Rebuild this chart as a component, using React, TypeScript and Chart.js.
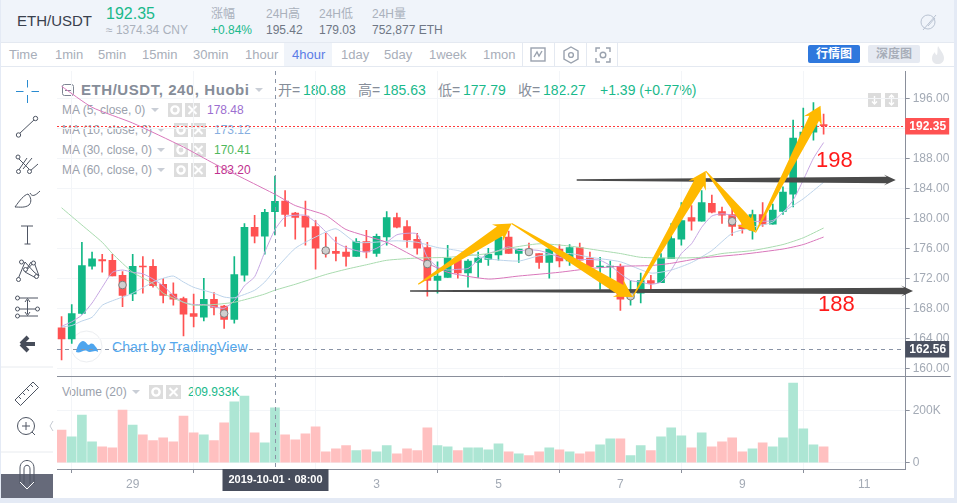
import React, { useEffect, useRef } from "react";
import { Chart, registerables } from "chart.js";

Chart.register(...registerables);

// ---------- data (bar number 0 = 29 Sep 00:00, 6 bars per day) ----------
const firstBar = -7;
const opens = [165.4,163.9,167.3,173.6,174.5,174.4,172.4,169.9,173.6,173.6,171.2,169.9,169.3,167.3,166.8,169.2,168.3,166.5,172.4,178.8,177.6,180.88,182.3,180.7,180.3,178.9,175.9,175.6,175.5,174.9,176.9,175.3,177.5,180.1,178.9,177.2,176.1,171.7,172.1,174.4,172.7,174.1,174.5,175.1,177.5,175.3,175.9,175.3,174.1,175.9,174.3,176.1,174.7,173.5,173.5,173.6,169.3,170,171.7,171.4,174.6,177.2,180.1,179.6,182,180.9,180.5,179.1,178.4,180.5,179.2,180.9,183.2,190.7,191.5,192.5];
const highs = [166.9,168.5,176.8,175.5,175.2,175.2,172.9,175.2,174.9,174.5,172,171.4,169.5,169.9,172,170.1,168.4,174.9,179.3,180.4,181.2,185.63,183.7,180.8,182.3,179.7,178,177.5,176.3,177.3,178.4,177.9,180.9,180.7,179.7,178,176.8,174.2,176.4,174.7,174.5,175.5,176,177.7,178.3,175.9,176.7,175.3,176,176.5,176.5,176.7,175.5,174.8,174.3,173.9,171.7,172.7,172.4,175.3,179.3,182.1,181.7,183.7,183.1,181.5,181.5,180.2,181.1,182.1,181.9,184.2,193.1,194.7,195.42,193.9];
const lows = [161.1,163.3,167.2,173.2,172.8,172.3,168.2,169,170,170.8,168.7,168.4,164.3,165.5,166.3,167.1,165.3,166,171.6,176.7,175.2,177.79,178.9,177.2,176.4,173.2,174.8,174.3,173.6,174.9,174.7,174.9,176.4,178.7,176.1,175.2,169.6,170,172.1,172,170.8,172.1,173.7,174.4,175.3,174.1,175.1,173.3,172,173.5,173.7,174.4,173.5,170.5,170.5,167.7,168.4,168.7,170.5,171.4,174.6,176.4,178.4,179.6,180.7,179.3,177.7,178,177.2,178.9,179.2,180.5,181.5,190.4,190.4,191.2];
const closes = [163.9,167.3,173.7,174.6,174.3,172.3,169.7,173.6,173.5,171,169.7,169.2,167.2,166.9,169.2,168.1,166.5,172.5,178.8,177.6,180.8,182.27,180.5,180.1,178.8,176,175.3,175.3,174.9,176.9,175.5,177.6,180.1,178.8,177.1,176,171.7,172.3,174.7,172.7,174.3,174.7,175.2,177.5,175.3,175.9,175.3,174.1,175.9,174.3,176.1,174.4,173.5,173.6,173.6,169.2,169.9,171.7,171.3,174.7,177.3,179.7,179.6,182.1,180.8,180.4,178.9,178.6,180.5,179.2,181.1,183.5,190.7,191.5,192.5,192.35];
// volume, in thousands
const volumes = [125,99,182,80,61,57,201,144,106,84,95,80,178,114,106,84,152,232,254,114,76,209.933,106,87,110,137,42,53,65,46,49,42,65,34,53,46,133,65,61,46,57,57,49,72,42,34,27,42,57,49,42,34,42,68,91,91,27,65,46,99,133,103,57,114,61,80,95,42,53,76,61,95,304,129,68,61];

const ma5Bars = [-7,-6,-5,-4,-3,-2,-1,0,1,2,3,4,5,6,7,8,9,10,11,12,13,14,15,16,17,18,19,20,21,22,23,24,25,26,27,28,29,30,31,32,33,34,35,36,37,38,39,40,41,42,43,44,45,46,47,48,49,50,51,52,53,54,55,56,57,58,59,60,61,62,63,64,65,66,67,68];
const ma5Values = [165.6,166.2,167.1,168.7,170.8,172.8,173.1,172.8,172.6,171.9,171,169.7,168.8,168.5,168.5,168.2,168,169,171,172.2,175.5,178.48,180.2,180.4,180.4,179.5,178.2,176.8,176.1,175.7,175.5,176,176.8,177.8,178,177.9,174.8,173.5,173.1,173.2,173.3,174.4,175.3,175.7,176.2,175.7,175.8,175.7,175.3,174.8,174.6,174.5,174.5,174.4,173.7,172.6,171.7,171.5,171.2,171.5,173.1,175.3,176.6,178.8,180.3,180.6,180.4,180,179.6,179.6,179.7,180.8,182.4,185.1,188,190.1];
const ma10Bars = [-7,-6,-5,-4,-3,-2,0,2,3,4,5,6,8,9,10,12,13,14,16,18,20,22,26,28,30,32,35,38,40,43,45,48,51,53,55,57,59,61,63,64,66,68];
const ma10Values = [165.5,165.7,166.3,166.8,168.4,169,170,171.5,172,172.3,171.5,170.8,170,169.5,169.4,170.4,171.5,173.12,176,177.5,178.6,176.8,177,176.8,176.1,175.7,174.6,174.3,175,175.3,174.8,174.2,172.7,173.1,174.1,175.7,178,178.8,179.5,180.8,182.6,184.8];
const ma30Bars = [-7,-5,-3,-2,0,2,3,5,6,8,10,12,13,14,16,19,21,23,25,28,31,35,37,40,43,46,48,50,53,56,58,61,64,66,68];
const ma30Values = [181.4,179.1,176.8,175.3,172.8,171.3,170,168.8,168.4,168.5,168.8,169.5,169.9,170.41,171.2,172.5,173.2,173.8,174.4,174.7,174.8,175.3,176,176.6,176.3,175.7,175.3,174.8,174.7,174.8,175.3,175.7,176.5,177.4,178.7];
const ma60Bars = [-7,-4,0,5,8,14,16,19,21,25,28,31,35,38,42,45,48,51,53,56,60,64,66,68];
const ma60Values = [197.6,194.8,192.7,189.5,187.3,183.2,181.7,180.4,178.5,176.8,174.7,172.8,171.9,172.3,172.8,173.3,173.6,173.7,174,174.7,175.2,175.9,176.5,177.5];

const markerBars = [-1,9,19,29,39,49,59];
const markerPrices = [171.1,167.3,175.7,173.9,175.5,169.6,179.6];

const priceTicksStep = 4;
const dateBars = [0,12,24,36,48,60,72];
const dateLabels = ["29","","3","5","7","9","11"];

const lastPrice = 192.35;
const refPrice = 162.56;
const crossBar = 14;
const crossLabel = "2019-10-01 · 08:00";

const orangeStartBars = [28.1,37.3,49.2,56.4,61.3];
const orangeStartPrices = [171.2,179.3,169.5,186.3,178.1];
const orangeEndBars = [37.3,49.2,56.4,61.3,67.7];
const orangeEndPrices = [179.3,169.5,186.3,178.1,195];
const blackStartBars = [43.7,27.3];
const blackEndBars = [75.1,76.8];
const blackPrices = [185.1,170.3];

const FONT = '"Liberation Sans", Arial, sans-serif';
const CJK = '"Liberation Sans", "Noto Sans CJK SC", sans-serif';
const UP = "#12b886";
const DOWN = "#ff5252";
const UP_VOL = "#ade6d4";
const DOWN_VOL = "#ffc0c0";
const TEAL = "#1ab98b";

const bars = opens.map((_, k) => firstBar + k);
const colorOf = (k: number) => (closes[k] >= opens[k] ? UP : DOWN);
const xy = (xs: number[], ys: number[]) => xs.map((x, k) => ({ x, y: ys[k] }));

function T(p: { x: number; y: number; s?: number; c?: string; b?: boolean; children: any; ls?: number; f?: string; z?: number }) {
  return (
    <div style={{ position: "absolute", left: p.x, top: p.y, lineHeight: "0px", height: 0, whiteSpace: "pre", fontSize: p.s ?? 12, color: p.c ?? "#a3aab5", fontWeight: p.b ? 700 : 400, fontFamily: p.f ?? CJK, letterSpacing: p.ls ?? 0, zIndex: p.z }}>
      {p.children}
    </div>
  );
}

function Box(p: { x: number; y: number; w: number; h: number; c: string; r?: number }) {
  return <div style={{ position: "absolute", left: p.x, top: p.y, width: p.w, height: p.h, background: p.c, borderRadius: p.r ?? 0 }} />;
}

function GearX({ x, y }: { x: number; y: number }) {
  return (
    <svg style={{ position: "absolute", left: x, top: y }} width={32} height={14}>
      <rect x={0} y={0} width={14} height={14} fill="#dddddd" />
      <circle cx={7} cy={7} r={3.6} fill="none" stroke="#fff" strokeWidth={2.4} />
      <rect x={17} y={0} width={15} height={14} fill="#dddddd" />
      <path d="M20.5 3 L28.5 11 M28.5 3 L20.5 11" stroke="#fff" strokeWidth={2} />
    </svg>
  );
}

function Caret({ x, y }: { x: number; y: number }) {
  return (
    <svg style={{ position: "absolute", left: x, top: y }} width={9} height={5}>
      <path d="M0 0 L8 0 L4 4 Z" fill="#c9ced6" />
    </svg>
  );
}

function SideIcons() {
  const k = "#4e5563";
  return (
    <svg style={{ position: "absolute", left: 0, top: 0 }} width={57} height={503}>
      <path d="M27.5 80 V87.5 M27.5 95 V103 M16 91.5 H23.5 M31.5 91.5 H39" stroke="#2a8bd0" strokeWidth={1} fill="none" />
      <g stroke={k} strokeWidth={1} fill="#fff">
        <line x1={19} y1={134} x2={35} y2={119} />
        <circle cx={18.5} cy={135} r={2.2} />
        <circle cx={35.5} cy={118.5} r={2.2} />
        <line x1={18} y1={158} x2={29} y2={169} />
        <line x1={18} y1={171} x2={27} y2={158} />
        <line x1={23} y1={169} x2={32} y2={158} />
        <line x1={30} y1={171} x2={38} y2={164} />
        <circle cx={18} cy={157} r={2} />
        <circle cx={18.5} cy={171.5} r={2} />
        <circle cx={29.5} cy={171.5} r={2} />
        <path d="M15 207 C20 200 24 195 28 194 C31 197 32 202 29 205 C25 208 20 207 15 207 Z" fill="none" />
        <path d="M30 193 C32 197 35 196 40 191" fill="none" />
        <path d="M21 226 H33 M27.5 226 V244 M24.5 244 H30.5" fill="none" />
        <path d="M18 279 L25 262 L34 272 L39 276 L34 262 L25 272 L31 262 M25 272 L36 278" fill="none" />
        <circle cx={18.5} cy={279.5} r={2} />
        <circle cx={21.5} cy={262} r={2} />
        <circle cx={25.5} cy={269.5} r={2} />
        <circle cx={33.5} cy={263} r={2} />
        <circle cx={36.5} cy={276.5} r={2} />
        <path d="M18 298 H38 M18 309 H37 M18 316 H38" fill="none" />
        <path d="M27.5 300 V314 M25 302 L27.5 298.5 L30 302 M25 312 L27.5 315.5 L30 312" fill="none" />
        <circle cx={17.5} cy={298} r={2} />
        <circle cx={17.5} cy={309} r={2} />
        <circle cx={17.5} cy={316} r={2} />
        <circle cx={37.5} cy={309} r={2} />
      </g>
      <path d="M21 344 L28 337 M21 344 L28 351 M21 344 H35" stroke="#474d5a" strokeWidth={4} fill="none" />
      <line x1={1} y1={367} x2={53} y2={367} stroke="#e8ebef" />
      <g stroke={k} strokeWidth={1} fill="none">
        <path d="M15 400 L33 382 L38.5 387.5 L20.5 405.5 Z" />
        <path d="M19 397 L21 399 M23 393 L25 395 M27 389 L29 391 M31 385 L33 387" />
        <circle cx={26} cy={426} r={8.5} />
        <path d="M22 426 H30 M26 422 V430 M32 432 L35 435" />
      </g>
      <path d="M53 421 L50 426 L53 431" stroke="#c6cbd3" fill="none" />
      <line x1={1} y1={452} x2={53} y2={452} stroke="#e8ebef" />
      <rect x={1} y={474} width={52} height={24} fill="#666a7a" />
      <path d="M20 484 V468 C20 458 34 458 34 468 V484 M24 484 V469 C24 464 30 464 30 469 V484" stroke={k} fill="none" />
      <path d="M20 482 L27 489 L34 482" stroke="#fff" fill="none" />
    </svg>
  );
}

function drawArrow(ctx: CanvasRenderingContext2D, x0: number, y0: number, x1: number, y1: number, tail: number, shaft: number, head: number, len: number, color: string) {
  const L = Math.hypot(x1 - x0, y1 - y0);
  const ux = (x1 - x0) / L;
  const uy = (y1 - y0) / L;
  const nx = -uy;
  const ny = ux;
  const at = (a: number, w: number): [number, number] => [x0 + ux * a + nx * w, y0 + uy * a + ny * w];
  const pts = [at(0, tail / 2), at(L - len, shaft / 2), at(L - len - 3, head / 2), at(L, 0), at(L - len - 3, -head / 2), at(L - len, -shaft / 2), at(0, -tail / 2)];
  ctx.beginPath();
  pts.forEach(([a, b], k) => (k ? ctx.lineTo(a, b) : ctx.moveTo(a, b)));
  ctx.closePath();
  ctx.fillStyle = color;
  ctx.fill();
}

const overlays = {
  id: "overlays",
  afterDatasetsDraw(chart: any) {
    const { ctx, scales, chartArea } = chart;
    const sx = scales.x;
    const sy = scales.y;
    const sv = scales.v;
    const left = chartArea.left;
    const right = chartArea.right;
    ctx.save();
    // crosshair
    ctx.strokeStyle = "#8a94a6";
    ctx.lineWidth = 1;
    ctx.setLineDash([4, 4]);
    const cx = Math.round(sx.getPixelForValue(crossBar)) + 0.5;
    ctx.beginPath();
    ctx.moveTo(cx, chartArea.top);
    ctx.lineTo(cx, chartArea.bottom);
    ctx.stroke();
    const ry = Math.round(sy.getPixelForValue(refPrice)) + 0.5;
    ctx.beginPath();
    ctx.moveTo(left, ry);
    ctx.lineTo(right, ry);
    ctx.stroke();
    // last price
    ctx.strokeStyle = "#ff3b3b";
    ctx.setLineDash([2, 2]);
    const ly = Math.round(sy.getPixelForValue(lastPrice)) + 0.5;
    ctx.beginPath();
    ctx.moveTo(left, ly);
    ctx.lineTo(right, ly);
    ctx.stroke();
    ctx.setLineDash([]);
    // pane dividers
    ctx.strokeStyle = "#8a8f9b";
    const dy = Math.round(sv.top) + 0.5;
    ctx.beginPath();
    ctx.moveTo(left, dy);
    ctx.lineTo(right + 45, dy);
    ctx.stroke();
    // price badges
    const badge = (y: number, bg: number | string, text: string) => {
      ctx.fillStyle = bg;
      ctx.fillRect(right - 0.5, y - 8.5, 44, 16.5);
      ctx.fillStyle = "#fff";
      ctx.font = `700 12px ${FONT}`;
      ctx.textAlign = "center";
      ctx.textBaseline = "middle";
      ctx.fillText(text, right + 22, y + 0.5);
    };
    badge(ly, DOWN, lastPrice.toFixed(2));
    badge(ry, "#4a5060", refPrice.toFixed(2));
    // crosshair date label
    ctx.fillStyle = "#474d5c";
    ctx.fillRect(cx - 53, chartArea.bottom, 106, 22);
    ctx.fillStyle = "#fff";
    ctx.font = `700 11px ${FONT}`;
    ctx.fillText(crossLabel, cx, chartArea.bottom + 11);
    // hand-drawn arrows
    blackPrices.forEach((p, k) => {
      const y = sy.getPixelForValue(p);
      drawArrow(ctx, sx.getPixelForValue(blackStartBars[k]), y, sx.getPixelForValue(blackEndBars[k]), y, 1.5, 6.5, 11, 9, "#4a4a4a");
    });
    orangeEndBars.forEach((b, k) => {
      drawArrow(ctx, sx.getPixelForValue(orangeStartBars[k]), sy.getPixelForValue(orangeStartPrices[k]), sx.getPixelForValue(b), sy.getPixelForValue(orangeEndPrices[k]), 1, 11, 20, 14, "#ffb900");
    });
    ctx.restore();
  },
};

export default function App() {
  const ref = useRef<HTMLCanvasElement>(null);
  useEffect(() => {
    const line = (data: any, color: string) => ({ type: "line", data, borderColor: color, borderWidth: 1, pointRadius: 0, tension: 0.2, yAxisID: "y", xAxisID: "x" });
    const chart = new Chart(ref.current as any, {
      type: "bar",
      data: {
        datasets: [
          line(xy(ma60Bars, ma60Values), "#d977bb"),
          line(xy(ma30Bars, ma30Values), "#a9dbaf"),
          line(xy(ma10Bars, ma10Values), "#bcd3ea"),
          line(xy(ma5Bars, ma5Values), "#c6a6e2"),
          {
            type: "scatter",
            data: xy(markerBars, markerPrices),
            pointRadius: 3.8,
            pointBackgroundColor: "#cfcfcf",
            pointBorderColor: "#7f7f7f",
            pointBorderWidth: 1,
            yAxisID: "y",
            xAxisID: "x",
            order: -1,
          },
          {
            data: bars.map((x, k) => ({ x, y: [opens[k], closes[k]] })),
            backgroundColor: bars.map((_, k) => colorOf(k)),
            barThickness: 7,
            minBarLength: 1,
            borderSkipped: false,
            grouped: false,
            yAxisID: "y",
            xAxisID: "x",
          },
          {
            data: bars.map((x, k) => ({ x, y: [lows[k], highs[k]] })),
            backgroundColor: bars.map((_, k) => colorOf(k)),
            barThickness: 1,
            borderSkipped: false,
            grouped: false,
            yAxisID: "y",
            xAxisID: "x",
          },
          {
            data: bars.map((x, k) => ({ x, y: volumes[k] })),
            backgroundColor: bars.map((_, k) => (closes[k] >= opens[k] ? UP_VOL : DOWN_VOL)),
            barThickness: 9,
            borderSkipped: false,
            grouped: false,
            yAxisID: "v",
            xAxisID: "x",
          },
        ] as any,
      },
      options: {
        responsive: false,
        animation: false,
        events: [],
        layout: { padding: { left: 57, top: 71, right: 0, bottom: 0 } },
        plugins: { legend: { display: false }, tooltip: { enabled: false } },
        scales: {
          x: {
            type: "linear",
            min: -7.45,
            max: 76.08,
            offset: false,
            afterFit: (s: any) => { s.height = 34; },
            grid: { color: "#f3f5f8", drawTicks: true, tickLength: 4, tickColor: "#8a8f9b" },
            border: { color: "#8a8f9b" },
            ticks: {
              stepSize: 12,
              includeBounds: false,
              maxRotation: 0,
              autoSkip: false,
              padding: 4,
              color: "#a3aab5",
              font: { family: FONT, size: 12 },
              callback: (v: any) => dateLabels[dateBars.indexOf(v)] ?? "",
            },
          },
          y: {
            type: "linear",
            position: "right",
            stack: "panes",
            stackWeight: 305.3,
            min: 158.93,
            max: 199.64,
            afterFit: (s: any) => { s.width = 51.3; },
            grid: { color: "#f3f5f8", tickLength: 4, tickColor: "#8a8f9b" },
            border: { color: "#8a8f9b" },
            ticks: {
              stepSize: priceTicksStep,
              includeBounds: false,
              autoSkip: false,
              padding: 3,
              color: "#a3aab5",
              font: { family: FONT, size: 12 },
              callback: (v: any) => Number(v).toFixed(2),
            },
          },
          v: {
            type: "linear",
            position: "right",
            stack: "panes",
            stackWeight: 92.7,
            min: -24,
            max: 329.8,
            afterFit: (s: any) => { s.width = 51.3; },
            grid: { color: "#f3f5f8", tickLength: 4, tickColor: "#8a8f9b" },
            border: { color: "#8a8f9b" },
            ticks: {
              stepSize: 200,
              includeBounds: false,
              autoSkip: false,
              padding: 3,
              color: "#a3aab5",
              font: { family: FONT, size: 12 },
              callback: (v: any) => (Number(v) === 0 ? "0" : `${Number(v)}K`),
            },
          },
        },
      } as any,
      plugins: [overlays] as any,
    });
    return () => chart.destroy();
  }, []);

  const maRows = [
    { name: "MA (5, close, 0)", y: 110, icon: 168, vx: 207, val: "178.48", c: "#9c6fd0" },
    { name: "MA (10, close, 0)", y: 130, icon: 174, vx: 214, val: "173.12", c: "#86aee0" },
    { name: "MA (30, close, 0)", y: 150, icon: 174, vx: 214, val: "170.41", c: "#4fb85c" },
    { name: "MA (60, close, 0)", y: 170, icon: 174, vx: 214, val: "183.20", c: "#c0308e" },
  ];
  const periods = [["Time", 9], ["1min", 55], ["5min", 98], ["15min", 142], ["30min", 193], ["1hour", 245], ["4hour", 292], ["1day", 341], ["5day", 384], ["1week", 429], ["1mon", 483]] as [string, number][];
  const stats = [["涨幅", "+0.84%", 211, TEAL], ["24H高", "195.42", 266, "#6f7785"], ["24H低", "179.03", 319, "#6f7785"], ["24H量", "752,877 ETH", 372, "#6f7785"]] as [string, string, number, string][];
  const ohlc = [["开=", "180.88", 278], ["高=", "185.63", 358], ["低=", "177.79", 438], ["收=", "182.27", 518]] as [string, string, number][];

  return (
    <div style={{ position: "absolute", left: 0, top: 0, width: 957, height: 503, overflow: "hidden", background: "#e4eaf5", fontFamily: CJK }}>
      <Box x={1} y={0} w={953} h={498} c="#ffffff" />
      <Box x={1} y={0} w={953} h={42} c="#f0f4fa" />
      <Box x={1} y={42} w={953} h={1} c="#e4e9f1" />
      <Box x={1} y={66} w={953} h={1} c="#e4e9f1" />
      <Box x={284} y={43} w={48} h={23} c="#f0f4fa" />
      {[522, 554, 586, 617].map((x) => <Box key={x} x={x} y={43} w={1} h={23} c="#e4e9f1" />)}

      <T x={17} y={21} s={15} c="#39404d">ETH/USDT</T>
      <T x={106} y={14} s={16} c={TEAL}>192.35</T>
      <T x={106} y={30} s={12} c="#aab1bc">≈ 1374.34 CNY</T>
      {stats.map(([a, b, x, c]) => (
        <React.Fragment key={a}>
          <T x={x} y={14} s={12} c="#aab1bc">{a}</T>
          <T x={x} y={30} s={12} c={c}>{b}</T>
        </React.Fragment>
      ))}
      <svg style={{ position: "absolute", left: 919, top: 12 }} width={20} height={20}>
        <circle cx={9} cy={10} r={7} fill="none" stroke="#b9c3d2" />
        <path d="M4 18 L17 3 M9 14 L16 6" stroke="#b9c3d2" fill="none" />
      </svg>
      {periods.map(([p, x]) => <T key={p} x={x} y={55} s={13} c={p === "4hour" ? "#5b7ce6" : "#a8aeb9"}>{p}</T>)}
      <svg style={{ position: "absolute", left: 528, top: 45 }} width={90} height={20}>
        <rect x={3} y={3} width={14} height={13} fill="none" stroke="#9aa2ae" strokeWidth={1.4} />
        <path d="M6 12 L9 7 L11 11 L14 6" stroke="#9aa2ae" strokeWidth={1.4} fill="none" />
        <path d="M43 2 L50 6 V14 L43 18 L36 14 V6 Z" fill="none" stroke="#9aa2ae" strokeWidth={1.4} />
        <circle cx={43} cy={10} r={2.4} fill="none" stroke="#9aa2ae" strokeWidth={1.4} />
        <path d="M68 7 V3 H72 M78 3 H82 V7 M82 13 V17 H78 M72 17 H68 V13" fill="none" stroke="#9aa2ae" strokeWidth={1.4} />
        <circle cx={75} cy={10} r={2.8} fill="none" stroke="#9aa2ae" strokeWidth={1.4} />
      </svg>
      <Box x={808} y={45} w={52} h={18} c="#2f78dd" r={2} />
      <T x={816} y={54} s={12} c="#fff" b>行情图</T>
      <Box x={868} y={45} w={52} h={18} c="#e6eaf2" r={2} />
      <T x={876} y={54} s={12} c="#a8aeb9" b>深度图</T>
      <svg style={{ position: "absolute", left: 930, top: 45 }} width={16} height={20}>
        <path d="M8 1 C11 6 14 9 14 13 C14 17 11 19 8 19 C4 19 2 17 2 13 C2 10 4 8 5 7 C5 9 6 10 7 10 C8 7 7 4 8 1 Z" fill="#e6e8ec" />
      </svg>

      <SideIcons />

      <svg style={{ position: "absolute", left: 61, top: 83 }} width={15} height={15}>
        <rect x={1.5} y={1.5} width={11} height={11} rx={2} fill="none" stroke="#7d8592" />
        <line x1={4} y1={7.5} x2={10} y2={7.5} stroke="#7d8592" />
      </svg>
      <T x={81} y={90} s={15} c="#868d99" ls={0.55} b>ETH/USDT, 240, Huobi</T>
      <Caret x={255} y={88} />
      {ohlc.map(([a, b, x]) => (
        <React.Fragment key={a}>
          <T x={x} y={90} s={14} c="#868d99">{a}</T>
          <T x={x + 25} y={90} s={14} c={TEAL}>{b}</T>
        </React.Fragment>
      ))}
      <T x={600} y={90} s={14} c={TEAL}>+1.39 (+0.77%)</T>
      {maRows.map((r) => (
        <React.Fragment key={r.name}>
          <T x={62} y={r.y} s={12} c="#9aa1ac">{r.name}</T>
          <Caret x={r.icon - 17} y={r.y - 2} />
          <GearX x={r.icon} y={r.y - 7} />
          <T x={r.vx} y={r.y} s={12} c={r.c}>{r.val}</T>
        </React.Fragment>
      ))}
      <T x={62} y={392} s={12} c="#9aa1ac">Volume (20)</T>
      <Caret x={132} y={390} />
      <GearX x={149} y={385} />
      <T x={188} y={392} s={12} c={TEAL}>209.933K</T>

      <svg style={{ position: "absolute", left: 868, top: 93 }} width={31} height={15}>
        <rect x={0} y={0} width={13} height={14} fill="#dcdcdc" />
        <rect x={17} y={0} width={13} height={14} fill="#dcdcdc" />
        <path d="M6.5 3 V11 M4 8.5 L6.5 11 L9 8.5 M23.5 2 V12 M21 4.5 L23.5 2 L26 4.5 M21 9.5 L23.5 12 L26 9.5" stroke="#fff" strokeWidth={1.4} fill="none" />
      </svg>

      <svg style={{ position: "absolute", left: 70, top: 330 }} width={34} height={34}>
        <circle cx={16.5} cy={16.5} r={15.5} fill="#fff" stroke="#eceef1" />
        <path d="M6 22 C7 16 10 11 13 11 C16 11 17 15 19 15 C21 13 23 13 25 16 C27 18 28 20 28 22 C24 19 21 24 17 21 C14 19 10 24 6 22 Z" fill="#4ea5ee" />
      </svg>
      <T x={112} y={347} s={14} c="#55a9ee" ls={0.1}>Chart by TradingView</T>

      <canvas ref={ref} width={957} height={503} style={{ position: "absolute", left: 0, top: 0, display: "block" }} />

      <T x={816} y={160} s={22} c="#ff1a1a" f={FONT}>198</T>
      <T x={818} y={304} s={22} c="#ff1a1a" f={FONT}>188</T>
    </div>
  );
}
